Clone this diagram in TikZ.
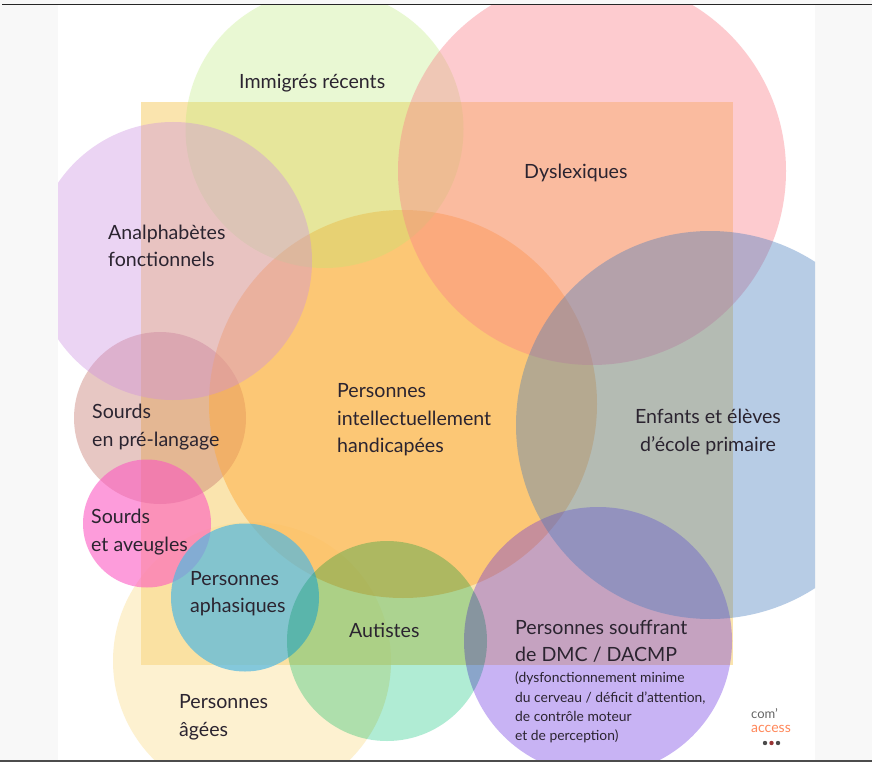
\documentclass[tikz,border=0pt]{standalone}
\usepackage{fontspec}
\setmainfont{Lato}
\definecolor{pageback}{HTML}{F8F8F8}
\definecolor{rectcol}{HTML}{F9DC93}
\definecolor{txtcol}{HTML}{2B2430}
\tikzset{
  x=1pt,y=-1pt,
  label/.style={anchor=west,align=left,inner sep=0pt,text=txtcol,font=\fontsize{19.6}{27.5}\selectfont},
  clabel/.style={label,anchor=center,align=center},
  small/.style={anchor=west,align=left,inner sep=0pt,text=txtcol,font=\fontsize{13.85}{19.2}\selectfont},
}
\begin{document}
\begin{tikzpicture}
\useasboundingbox (0,0) rectangle (872,762);
\fill[pageback] (0,0) rectangle (872,762);
\fill[white] (58,5) rectangle (815,760);
\begin{scope}
\clip (58,5) rectangle (815,760);
\fill[color={rgb,255:red,253;green,241;blue,208}] (252,661) circle[radius=139];
\fill[rectcol,fill opacity=.75] (141,102) rectangle (733,665);
\fill[color={rgb,255:red,197;green,117;blue,107},fill opacity=.4] (160,418) circle[radius=86];
\fill[color={rgb,255:red,255;green,171;blue,62},fill opacity=.5] (403,404) circle[radius=194];
\fill[color={rgb,255:red,185;green,235;blue,112},fill opacity=.3] (324.5,129) circle[radius=139];
\fill[color={rgb,255:red,205;green,142;blue,226},fill opacity=.38] (173,261) circle[radius=139];
\fill[color={rgb,255:red,250;green,127;blue,137},fill opacity=.4] (592,171) circle[radius=194];
\fill[color={rgb,255:red,100;green,40;blue,226},fill opacity=.35] (598,641) circle[radius=134];
\fill[color={rgb,255:red,66;green,121;blue,189},fill opacity=.38] (710,425) circle[radius=194];
\fill[color={rgb,255:red,252;green,86;blue,193},fill opacity=.58] (147,523.5) circle[radius=64];
\fill[color={rgb,255:red,81;green,184;blue,225},fill opacity=.7] (245,597.5) circle[radius=74];
\begin{scope}[blend mode=multiply]
\fill[color={rgb,255:red,176;green,236;blue,212}] (387,641) circle[radius=100];
\end{scope}
\end{scope}
\fill[black!85] (2,4) rectangle (872,5.5);
\fill[black!70] (0,759.5) rectangle (872,762);
\node[label] (imm) at (239,83) {Immigrés récents};
\node[label] (dys) at (524,173) {Dyslexiques};
\node[label] (ana) at (108,246) {Analphabètes\\fonctionnels};
\node[label] (int) at (337,420) {Personnes\\intellectuellement\\handicapées};
\node[clabel] (enf) at (708,432) {Enfants et élèves\\d'école primaire};
\node[label] (spl) at (92,427) {Sourds\\en pré-langage};
\node[label] (sav) at (91,532) {Sourds\\et aveugles};
\node[label] (aph) at (190,593.5) {Personnes\\aphasiques};
\node[label] (aut) at (349,630) {Autistes};
\node[label] (age) at (179,717.5) {Personnes\\âgées};
\node[label] (dmc) at (515,641.5) {Personnes souffrant\\de DMC / DACMP};
\node[small] (dmcs) at (515,707.5) {(dysfonctionnement minime\\du cerveau / déficit d'attention,\\de contrôle moteur\\et de perception)};
\node[anchor=west,inner sep=0pt,text=black!60,font=\fontsize{13}{13}\selectfont] (lg1) at (751,714) {com'};
\node[anchor=west,inner sep=0pt,text=orange!55!red!65!white,font=\fontsize{14}{14}\selectfont] (lg2) at (751,728.5) {access};
\fill[black!70] (765,743) circle[radius=2.2];
\fill[red!50!black!80] (771.5,743) circle[radius=2.2];
\fill[black!70] (778,743) circle[radius=2.2];
\end{tikzpicture}
\end{document}
